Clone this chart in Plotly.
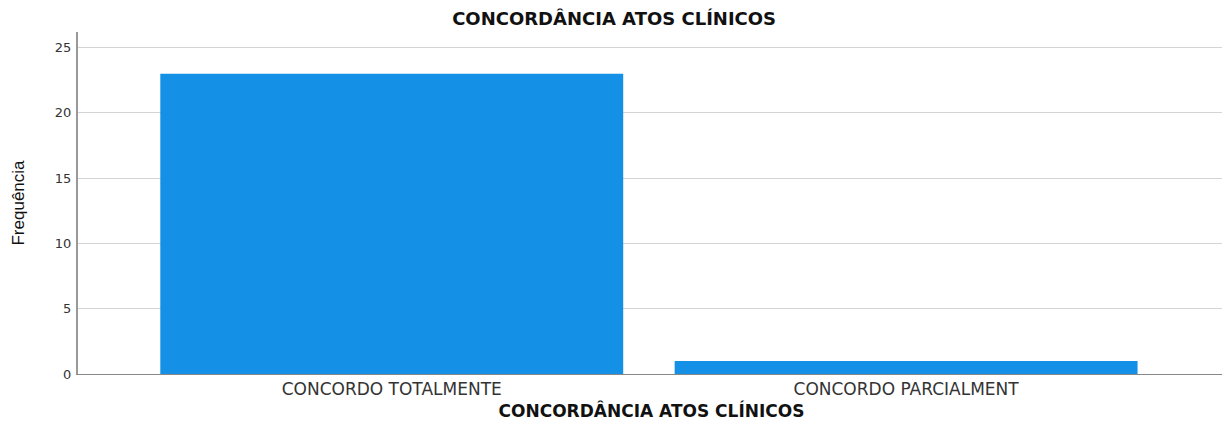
import plotly.graph_objects as go

# Dados
categorias = ["CONCORDO TOTALMENTE", "CONCORDO PARCIALMENT"]
frequencias = [23, 1]
y_ticks = [0, 5, 10, 15, 20, 25]

titulo = "CONCORDÂNCIA ATOS CLÍNICOS"

fig = go.Figure(go.Bar(x=categorias, y=frequencias, marker=dict(color="#1490E6", line=dict(width=0))))

# the page body has an 8px margin, so the figure is sized to compensate
fig.update_layout(
    width=1222, height=420,
    margin=dict(l=70, r=5, t=24, b=54),
    plot_bgcolor="white", paper_bgcolor="white",
    bargap=0.1,
    showlegend=False,
    font=dict(family="DejaVu Sans, Arial, sans-serif", color="#222"),
    title=dict(text="<b>" + titulo + "</b>", x=0.496, xanchor="center", y=0.975, yanchor="middle",
               font=dict(size=18, color="#111")),
)
fig.update_xaxes(
    range=[-0.61, 1.62],
    automargin=False,
    showline=True, linecolor="#888", linewidth=1,
    ticks="", tickfont=dict(size=17, color="#333"),
    title=dict(text="<b>" + titulo + "</b>", font=dict(size=17, color="#111"), standoff=6),
)
fig.update_yaxes(
    range=[0, 26.2],
    automargin=False,
    tickvals=y_ticks,
    showline=True, linecolor="#999", linewidth=2,
    showgrid=True, gridcolor="#d4d4d4", gridwidth=1,
    zeroline=False,
    ticks="", tickfont=dict(size=13, color="#333"), ticklabelstandoff=2,
    title=dict(text="Frequência", font=dict(family="Liberation Sans Narrow, Arial Narrow, Liberation Sans, sans-serif", size=17, color="#111"), standoff=26),
)

fig.write_html("out.html")
